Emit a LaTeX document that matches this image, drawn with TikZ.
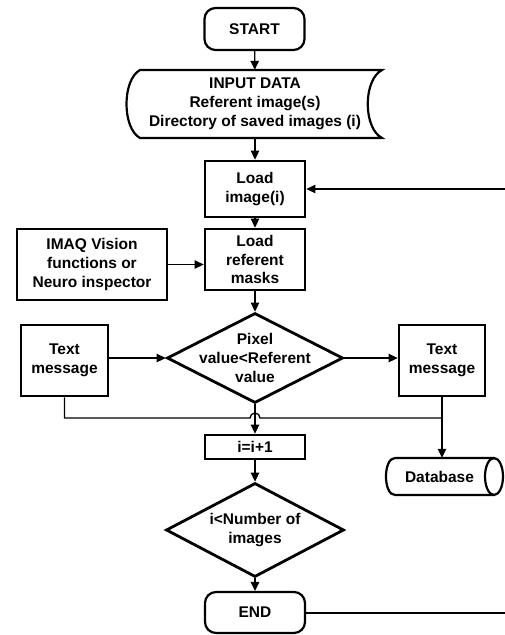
\documentclass[tikz,border=0pt]{standalone}
\usepackage{fontspec}
\setmainfont{Liberation Sans}
\usetikzlibrary{shapes.geometric,arrows.meta}
\begin{document}
\begin{tikzpicture}[x=1pt,y=-1pt,
  txt/.style={font=\fontsize{15.5}{18.7}\selectfont\bfseries, align=center, inner sep=0pt},
  boxr/.style={txt, draw, line width=2.8pt, rectangle},
  term/.style={txt, draw, line width=2.2pt, rectangle, rounded corners=11pt, minimum width=100pt},
  dia/.style={draw, diamond, line width=2.8pt, inner sep=0pt},
  thin/.style={line width=2.2pt},
  conn/.style={line width=1.3pt},
  arr/.style={conn, -{Triangle[length=9pt,width=8.5pt]}}]
\useasboundingbox (0,0) rectangle (505,635);

% nodes
\node[term, minimum height=42pt] (start) at (254.5,29) {START};
\node[txt, minimum width=240pt, minimum height=68pt] (in) at (255,104) {INPUT DATA\\Referent image(s)\\Directory of saved images (i)};
\draw[thin] (140,70) -- (382,70) .. controls (363,80) and (363,128) .. (382,138) -- (140,138) .. controls (122,128) and (122,80) .. (140,70) -- cycle;

\node[boxr, minimum width=100pt, minimum height=56pt] (load) at (255,189) {Load\\image(i)};
\node[boxr, minimum width=100pt, minimum height=61pt] (mask) at (255,259.5) {Load\\referent\\masks};
\node[boxr, minimum width=150pt, minimum height=71pt] (imaq) at (92,264.5) {IMAQ Vision\\functions or\\Neuro inspector};

\node[dia, minimum width=176pt, minimum height=90pt] (d1) at (255,358) {};
\node[txt] at (d1) {Pixel\\value<Referent\\value};

\node[boxr, minimum width=87pt, minimum height=71pt] (lt) at (64.5,360.5) {Text\\message};
\node[boxr, minimum width=86pt, minimum height=71pt] (rt) at (442,360.5) {Text\\message};

\node[boxr, minimum width=100pt, minimum height=24pt] (inc) at (255,447) {i=i+1};

\node[txt, minimum width=117pt, minimum height=37pt] (db) at (444.5,476.5) {\hspace*{-10pt}Database};
\draw[thin] (395,458) -- (494,458) (395,495) -- (494,495)
  (395,458) .. controls (383,458) and (383,495) .. (395,495);
\draw[thin] (494,476.5) ellipse[x radius=9pt, y radius=18.5pt];

\node[dia, minimum width=178pt, minimum height=94pt] (d2) at (255,530) {};
\node[txt] at (d2) {i<Number of\\images};

\node[term, minimum height=41pt] (end) at (255,612.5) {END};

\coordinate (rin) at (505,189);
\coordinate (rout) at (505,613);
\coordinate (j) at (255,418);

% connectors
\draw[arr] (start) -- (in);
\draw[arr] (in) -- (load);
\draw[arr] (rin) -- (load.east |- rin);
\draw[arr] (load) -- (mask);
\draw[arr] (imaq.east) -- (imaq.east -| mask.west);
\draw[arr] (mask) -- (d1);
\draw[arr] (lt.east |- d1) -- (d1.west);
\draw[arr] (d1.east) -- (d1.east -| rt.west);
\draw[arr] (d1) -- (inc);
\draw[conn] (lt.south) -- (lt.south |- j) -- ([xshift=-5pt]j) arc[start angle=180, end angle=0, radius=5pt] -- (rt.south |- j);
\draw[arr] (rt.south) -- (rt.south |- db.north);
\draw[arr] (inc) -- (d2);
\draw[arr] (d2) -- (end);
\draw[conn] (end.east |- rout) -- (rout);
\end{tikzpicture}
\end{document}
